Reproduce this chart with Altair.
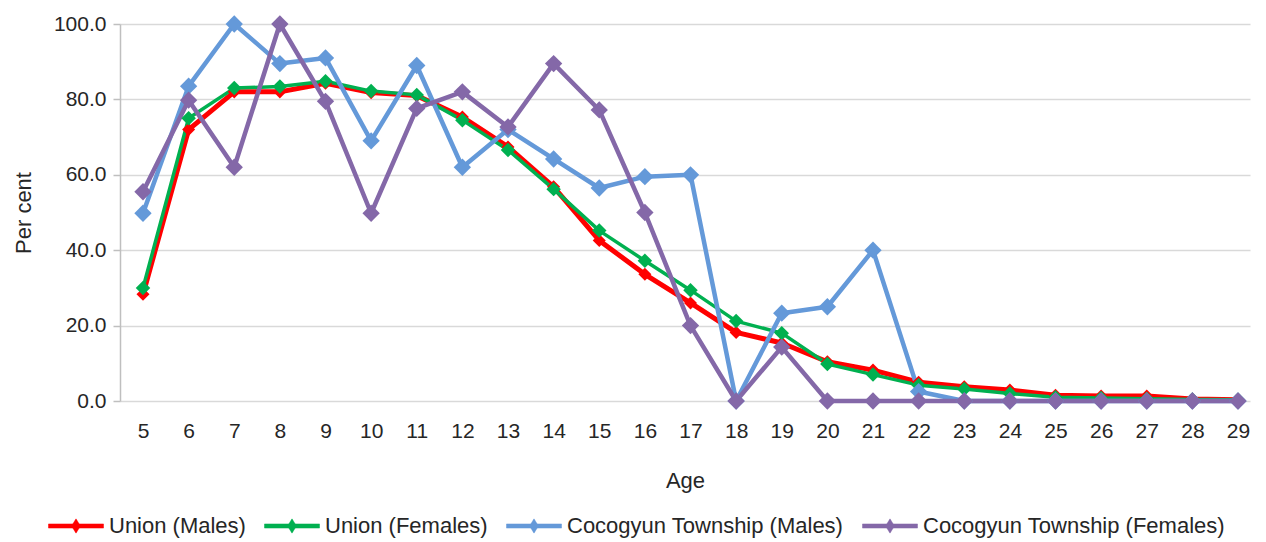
import altair as alt
import pandas as pd

ages = list(range(5, 30))
series_names = ["Union (Males)", "Union (Females)",
                "Cocogyun Township (Males)", "Cocogyun Township (Females)"]
union_males = [28.3, 72.0, 82.0, 82.0, 84.3, 81.8, 81.0, 75.3, 67.4, 56.8, 42.6, 33.6, 26.0,
               18.2, 15.4, 10.4, 8.2, 5.0, 3.8, 2.9, 1.5, 1.3, 1.3, 0.5, 0.3]
union_females = [30.0, 75.0, 83.0, 83.4, 84.8, 82.2, 81.2, 74.5, 66.6, 56.2, 45.2, 37.2, 29.4,
                 21.2, 18.0, 9.8, 7.0, 4.2, 3.2, 2.0, 1.0, 0.8, 0.6, 0.4, 0.3]
coco_males = [49.8, 83.5, 100.0, 89.5, 91.0, 69.0, 89.0, 62.0, 72.0, 64.2, 56.5, 59.5, 60.0,
              0.0, 23.3, 25.0, 40.0, 2.5, 0.0, 0.0, 0.0, 0.0, 0.0, 0.0, 0.0]
coco_females = [55.5, 79.8, 62.0, 100.0, 79.5, 49.8, 77.6, 82.0, 72.7, 89.5, 77.2, 50.0, 20.0,
                0.0, 14.3, 0.0, 0.0, 0.0, 0.0, 0.0, 0.0, 0.0, 0.0, 0.0, 0.0]
colors = ["#FF0000", "#00B050", "#6499D9", "#8468A8"]
line_widths = [5.0, 3.5, 4.5, 4.5]
marker_sizes = [170, 210, 300, 300]
y_ticks = [0, 20, 40, 60, 80, 100]

rows = []
for k, (name, vals) in enumerate(zip(series_names,
                                     [union_males, union_females, coco_males, coco_females])):
    for a, v in zip(ages, vals):
        rows.append({"Age": a, "Value": v, "Series": name, "order": k,
                     "lw": line_widths[k], "ms": marker_sizes[k]})
df = pd.DataFrame(rows)

FONT = "Liberation Sans"
TXT = "#262626"
LEG_PATH = ("M-1,-0.075L1,-0.075L1,0.075L-1,0.075Z "
            "M0,-0.26L0.16,0L0,0.26L-0.16,0Z")

color = alt.Color(
    "Series:N",
    scale=alt.Scale(domain=series_names, range=colors),
    legend=alt.Legend(
        title=None, orient="none", legendX=-72, legendY=474, direction="horizontal",
        symbolType=LEG_PATH, symbolSize=3025, symbolStrokeWidth=0.5,
        labelFont=FONT, labelFontSize=22, labelColor=TXT, labelOffset=5,
        columnPadding=17, padding=0, labelLimit=0,
    ),
)

x = alt.X(
    "Age:Q",
    scale=alt.Scale(domain=[4.496, 29.263], nice=False, zero=False),
    axis=alt.Axis(values=ages, format="d", grid=False, ticks=False, domain=False,
                  title="Age", labelFont=FONT, labelFontSize=21, labelColor=TXT,
                  labelPadding=19, titleFont=FONT, titleFontSize=22,
                  titleFontWeight="normal", titleColor=TXT, titlePadding=29,
                  labelFlush=False),
)
y = alt.Y(
    "Value:Q",
    scale=alt.Scale(domain=[0, 100], nice=False),
    axis=alt.Axis(values=y_ticks, format=".1f", grid=True, gridColor="#D9D9D9",
                  gridWidth=1.5, domainColor="#BFBFBF", domainWidth=1.5,
                  tickColor="#BFBFBF", tickSize=7, tickWidth=1.5,
                  title="Per cent", labelFont=FONT, labelFontSize=21, labelColor=TXT,
                  labelPadding=7, titleFont=FONT, titleFontSize=22,
                  titleFontWeight="normal", titleColor=TXT, titlePadding=18),
)

lines = alt.Chart(df).mark_line(strokeJoin="round").encode(
    x=x, y=y, color=color,
    strokeWidth=alt.StrokeWidth("lw:Q", scale=None),
    order=alt.Order("Age:Q"),
)
points = alt.Chart(df).mark_point(shape="diamond", filled=True, opacity=1).encode(
    x=x, y=y, color=color,
    size=alt.Size("ms:Q", scale=None),
)

chart = alt.layer(lines, points).properties(
    width=1130, height=377,
    autosize="none",
    padding={"left": 112, "top": 16, "right": 4, "bottom": 141},
    title=alt.TitleParams("Township", font=FONT, fontSize=26, fontWeight="bold",
                          color="#000000", anchor="middle", dx=-40, offset=1,
                          baseline="alphabetic"),
).configure_view(stroke=None)

chart.save("out.html", embed_options={"renderer": "svg", "actions": False})
